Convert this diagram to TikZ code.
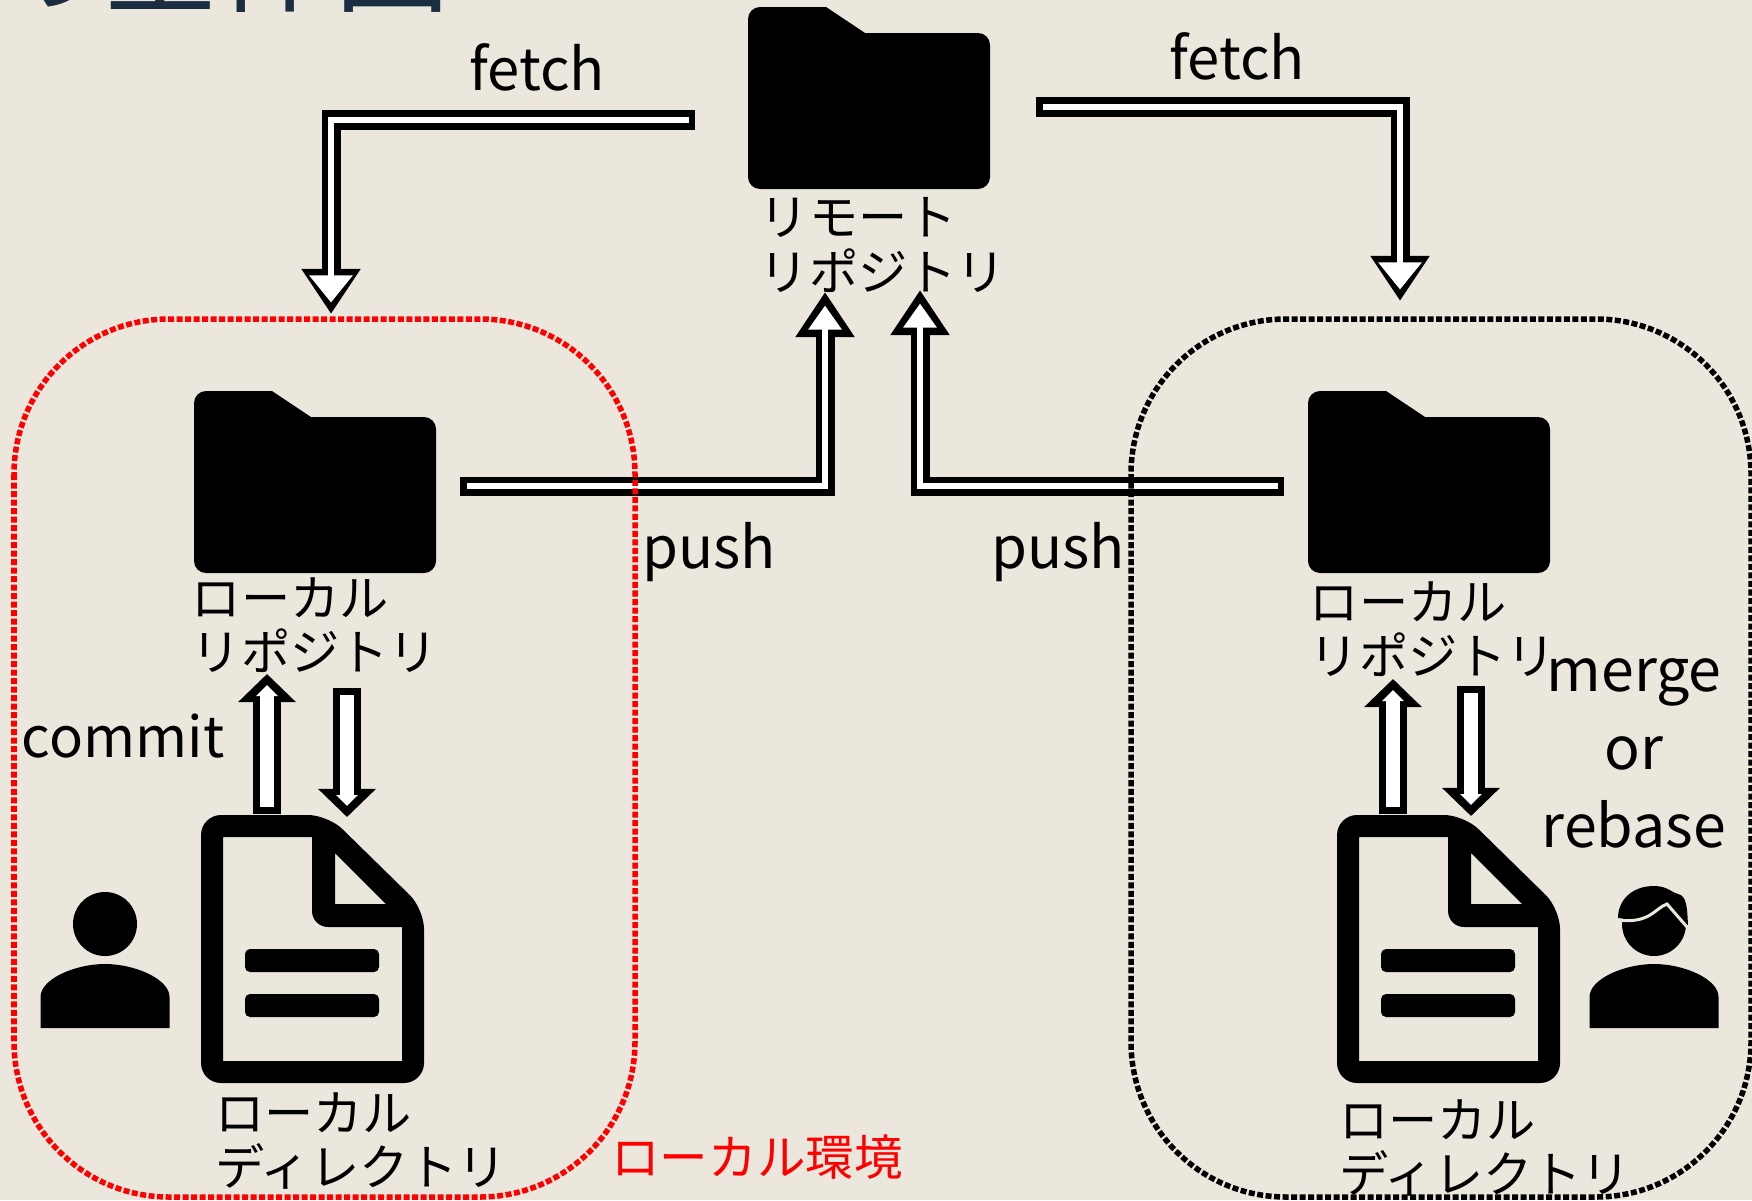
\documentclass[tikz,border=0pt]{standalone}
\usepackage{fontspec}
\setmainfont{Noto Sans CJK JP}
\usetikzlibrary{arrows.meta}
\definecolor{paper}{HTML}{EBE7DC}
\definecolor{titleblue}{HTML}{1B2D40}
\tikzset{
  bigarrow/.style={draw=black,line width=.19cm,-{Triangle[length=.45cm,width=.56cm]},
    postaction={draw=white,line width=.06cm,shorten <=.065cm,shorten >=.115cm,-{Triangle[length=.27cm,width=.42cm]}}},
  pusharrow/.style={draw=black,line width=.19cm,-{Triangle[length=.45cm,width=.56cm]},
    postaction={draw=white,line width=.06cm,shorten <=.065cm,shorten >=.135cm,-{Triangle[length=.24cm,width=.32cm]}}},
  smallarrow/.style={draw=black,line width=.28cm,-{Triangle[length=.28cm,width=.56cm]},
    postaction={draw=white,line width=.14cm,shorten <=.07cm,shorten >=.11cm,-{Triangle[length=.11cm,width=.21cm]}}},
  envbox/.style={line width=.055cm,dash pattern=on .06cm off .025cm,rounded corners=1.55cm},
  word/.style={font=\fontsize{16.5}{16.5}\selectfont},
  kana/.style={font=\fontsize{14}{15.5}\selectfont,align=left},
  folder/.pic={
    \fill (78,0) -- (117,26) [rounded corners=.12cm] -- (242,26) -- (242,182) -- (0,182) -- (0,0) [sharp corners] -- cycle;
  },
  document/.pic={
    \fill[even odd rule] [rounded corners=.2cm] (0,0) -- (127,0) -- (223,94) -- (223,268) -- (0,268) -- cycle
      [sharp corners] (22,22) -- (111,22) [rounded corners=.16cm] -- (111,112) [sharp corners] -- (201,112) -- (201,246) -- (22,246) -- cycle
      (134,38) -- (134,89) -- (185,89) -- cycle;
    \fill[rounded corners=.05cm] (44,134) rectangle (178,157);
    \fill[rounded corners=.05cm] (44,179) rectangle (178,202);
  },
  person/.pic={
    \fill (0,0) circle (32);
    \fill (-64.5,104) -- (-64.5,73) .. controls (-64.5,55) and (-30,40) .. (0,40) .. controls (30,40) and (64.5,55) .. (64.5,73) -- (64.5,104) -- cycle;
  }
}
\begin{document}
\begin{tikzpicture}[x=.01cm,y=-.01cm]
  \useasboundingbox[fill=paper] (0,0) rectangle (1752,1200);
  \node[text=titleblue,font=\fontsize{33}{33}\selectfont,anchor=base west,inner sep=0] (title) at (-14,3) {の全体図};
  % folders and files
  \pic (remote) at (748,7) {folder};
  \pic (repoL) at (194,391) {folder};
  \pic (repoR) at (1308,391) {folder};
  \pic (fileL) at (201,815) {document};
  \pic (fileR) at (1337,815) {document};
  \pic (userL) at (105,924) {person};
  \pic (userR) at (1654,924) {person};
  \fill (1618,918) .. controls (1618,900) and (1632,886) .. (1654,886) .. controls (1668,886) and (1672,893) .. (1678,894) .. controls (1687,896) and (1687,908) .. (1688,925) -- cycle;
  \draw[paper,line width=.03cm] (1618,920) .. controls (1650,924) and (1655,908) .. (1667,904) -- (1687,927);
  % ends of the arrows
  \coordinate (fetchLa) at (695,120);
  \coordinate (fetchLb) at (331,314);
  \coordinate (fetchRa) at (1036,107);
  \coordinate (fetchRb) at (1400,301);
  \coordinate (pushLa) at (460,486);
  \coordinate (pushLb) at (825,292);
  \coordinate (pushRa) at (1284,486);
  \coordinate (pushRb) at (920,290);
  \draw[bigarrow] (fetchLa) -| (fetchLb);
  \draw[bigarrow] (fetchRa) -| (fetchRb);
  \draw[pusharrow] (pushLa) -| (pushLb);
  \draw[pusharrow] (pushRa) -| (pushRb);
  \coordinate (upLa) at (267,814);
  \coordinate (upLb) at (267,674);
  \coordinate (downLa) at (347,688);
  \coordinate (downLb) at (347,817);
  \coordinate (upRa) at (1393,814);
  \coordinate (upRb) at (1393,679);
  \coordinate (downRa) at (1471,686);
  \coordinate (downRb) at (1471,816);
  \draw[smallarrow] (upLa) -- (upLb);
  \draw[smallarrow] (downLa) -- (downLb);
  \draw[smallarrow] (upRa) -- (upRb);
  \draw[smallarrow] (downRa) -- (downRb);
  % local environments
  \draw[envbox,red] (14,319) rectangle (635,1197);
  \draw[envbox,black] (1131,319) rectangle (1751,1197);
  % labels
  \node[kana] (remotelabel) at (883,245) {リモート\\リポジトリ};
  \node[kana] (repoLlabel) at (315,625) {ローカル\\リポジトリ};
  \node[kana] (repoRlabel) at (1433,629) {ローカル\\リポジトリ};
  \node[kana] (fileLlabel) at (361,1141) {ローカル\\ディレクトリ};
  \node[kana] (fileRlabel) at (1485,1148) {ローカル\\ディレクトリ};
  \node[kana,red,font=\fontsize{13.8}{15.5}\selectfont] (envlabel) at (757,1157) {ローカル環境};
  \node[word] (fetchL) at (537,67) {fetch};
  \node[word] (fetchR) at (1237,56) {fetch};
  \node[word] (pushL) at (709,552) {push};
  \node[word] (pushR) at (1058,552) {push};
  \node[font=\fontsize{16}{16}\selectfont] (commit) at (123,736) {commit};
  \node[font=\fontsize{16.8}{22.2}\selectfont,align=center] (merge) at (1634,753) {merge\\or\\rebase};
\end{tikzpicture}
\end{document}
